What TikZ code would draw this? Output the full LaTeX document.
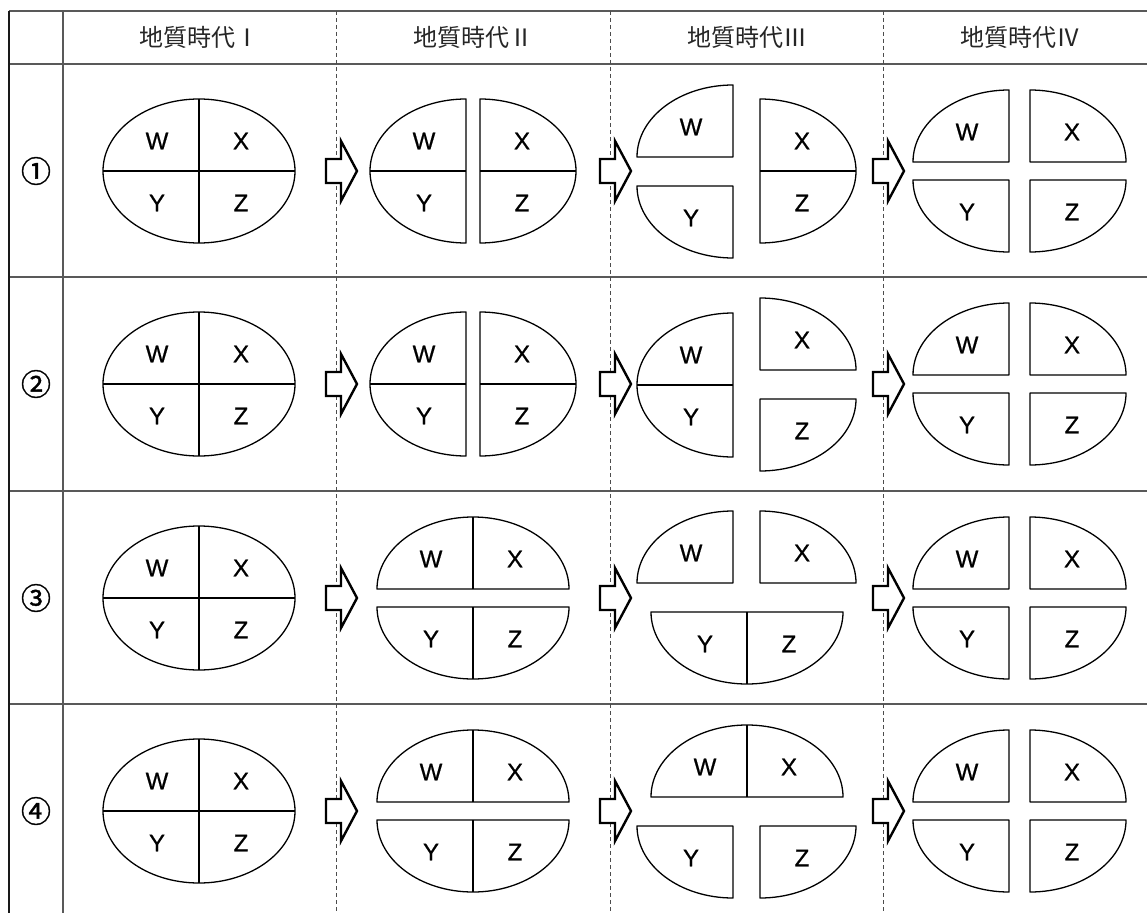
\documentclass[tikz,border=0pt]{standalone}
\usepackage{fontspec}
\setmainfont{Liberation Sans}
\newfontfamily\cjk{Noto Sans CJK JP}
\newfontfamily\numfont[FakeBold=1.2]{Noto Sans CJK JP}
\newfontfamily\lblfont[FakeBold=0.7]{Liberation Sans}
\usetikzlibrary{calc}
\tikzset{
  piece/.style={draw=black, line width=1.3pt, fill=white, line join=round},
  divline/.style={draw=black, line width=1.8pt},
  lbl/.style={inner sep=0pt, font=\lblfont\fontsize{24}{27}\selectfont, text=black},
  hdr/.style={inner sep=0pt, font=\cjk\fontsize{24}{28}\selectfont, text=black!85},
  num/.style={inner sep=0pt, font=\numfont\fontsize{30}{34}\selectfont, text=black},
  rulegray/.style={draw=black!65, line width=1.1pt},
  ruleblack/.style={draw=black!90, line width=1.3pt},
  sepline/.style={draw=black!70, line width=0.9pt, dash pattern=on 4pt off 3pt},
  blk/.style={draw=black, line width=2.4pt, fill=white, line join=miter},
}
% full ellipse with cross
\newcommand\fullE[3]{%
  \draw[piece] (#1,#2) ellipse[x radius=96,y radius=72];
  \draw[divline] (#1-96,#2) -- (#1+96,#2);
  \draw[divline] (#1,#2-72) -- (#1,#2+72);
  \node[lbl] (#3W) at (#1-42,#2-30) {W};
  \node[lbl] (#3X) at (#1+42,#2-30) {X};
  \node[lbl] (#3Y) at (#1-42,#2+32) {Y};
  \node[lbl] (#3Z) at (#1+42,#2+32) {Z};}
% quarters
\newcommand\qTL[3]{%
  \draw[piece] (#1,#2) -- (#1-96,#2) arc[start angle=180,end angle=270,x radius=96,y radius=72] -- cycle;
  \node[lbl] (#3) at (#1-42,#2-30) {W};}
\newcommand\qTR[3]{%
  \draw[piece] (#1,#2) -- (#1,#2-72) arc[start angle=270,end angle=360,x radius=96,y radius=72] -- cycle;
  \node[lbl] (#3) at (#1+42,#2-30) {X};}
\newcommand\qBL[3]{%
  \draw[piece] (#1,#2) -- (#1-96,#2) arc[start angle=180,end angle=90,x radius=96,y radius=72] -- cycle;
  \node[lbl] (#3) at (#1-42,#2+32) {Y};}
\newcommand\qBR[3]{%
  \draw[piece] (#1,#2) -- (#1+96,#2) arc[start angle=0,end angle=90,x radius=96,y radius=72] -- cycle;
  \node[lbl] (#3) at (#1+42,#2+32) {Z};}
% halves
\newcommand\hL[3]{%
  \draw[piece] (#1,#2-72) arc[start angle=270,end angle=90,x radius=96,y radius=72] -- cycle;
  \draw[divline] (#1-96,#2) -- (#1,#2);
  \node[lbl] (#3W) at (#1-42,#2-30) {W};
  \node[lbl] (#3Y) at (#1-42,#2+32) {Y};}
\newcommand\hR[3]{%
  \draw[piece] (#1,#2-72) arc[start angle=-90,end angle=90,x radius=96,y radius=72] -- cycle;
  \draw[divline] (#1,#2) -- (#1+96,#2);
  \node[lbl] (#3X) at (#1+42,#2-30) {X};
  \node[lbl] (#3Z) at (#1+42,#2+32) {Z};}
\newcommand\hT[3]{%
  \draw[piece] (#1-96,#2) arc[start angle=180,end angle=360,x radius=96,y radius=72] -- cycle;
  \draw[divline] (#1,#2) -- (#1,#2-72);
  \node[lbl] (#3W) at (#1-42,#2-30) {W};
  \node[lbl] (#3X) at (#1+42,#2-30) {X};}
\newcommand\hB[3]{%
  \draw[piece] (#1-96,#2) arc[start angle=180,end angle=0,x radius=96,y radius=72] -- cycle;
  \draw[divline] (#1,#2) -- (#1,#2+72);
  \node[lbl] (#3Y) at (#1-42,#2+32) {Y};
  \node[lbl] (#3Z) at (#1+42,#2+32) {Z};}
% block arrow
\newcommand\blkarrow[3]{%
  \coordinate (#3) at (#1,#2);
  \draw[blk] ($(#3)+(-10,-12)$) -- ($(#3)+(5,-12)$) -- ($(#3)+(5,-30)$) -- ($(#3)+(21,0)$)
     -- ($(#3)+(5,30)$) -- ($(#3)+(5,12)$) -- ($(#3)+(-10,12)$) -- cycle;}
\begin{document}
\begin{tikzpicture}[x=1pt,y=-1pt]
\useasboundingbox (0,0) rectangle (1147,912);
\fill[white] (0,0) rectangle (1147,912);
% table
\coordinate (tl) at (9,11);
\coordinate (bl) at (9,915);
\draw[rulegray] (9,11) -- (1150,11);
\draw[rulegray] (9,64) -- (1150,64);
\draw[rulegray] (9,277) -- (1150,277);
\draw[rulegray] (9,491) -- (1150,491);
\draw[rulegray] (9,704) -- (1150,704);
\draw[ruleblack] (tl) -- (bl);
\draw[rulegray] (63,11) -- (63,915);
\draw[sepline] (336,11) -- (336,915);
\draw[sepline] (610,11) -- (610,915);
\draw[sepline] (883,11) -- (883,915);
% headers
\node[hdr] (h1) at (199.5,37.5) {地質時代Ⅰ};
\node[hdr] (h2) at (473,37.5) {地質時代Ⅱ};
\node[hdr] (h3) at (747,37.5) {地質時代Ⅲ};
\node[hdr] (h4) at (1020,37.5) {地質時代Ⅳ};
% row numbers
\node[num] (n1) at (36,171) {①};
\node[num] (n2) at (36,384) {②};
\node[num] (n3) at (36,598) {③};
\node[num] (n4) at (36,811) {④};
% arrows
\foreach \r/\yy in {1/171,2/384,3/598,4/811}{
  \foreach \c/\xx in {1/336,2/610,3/883}{
    \blkarrow{\xx}{\yy}{ar\r\c}
  }
}
% row 1
\fullE{199}{171}{a1}
\hL{466}{171}{b1}
\hR{480}{171}{b1}
\qTL{733}{157}{c1W}
\qBL{733}{186}{c1Y}
\hR{760}{171}{c1}
\qTL{1009}{162}{d1W}
\qTR{1030}{162}{d1X}
\qBL{1009}{180}{d1Y}
\qBR{1030}{180}{d1Z}
% row 2
\fullE{199}{384}{a2}
\hL{466}{384}{b2}
\hR{480}{384}{b2}
\hL{733}{385}{c2}
\qTR{760}{370}{c2X}
\qBR{760}{399}{c2Z}
\qTL{1009}{375}{d2W}
\qTR{1030}{375}{d2X}
\qBL{1009}{393}{d2Y}
\qBR{1030}{393}{d2Z}
% row 3
\fullE{199}{598}{a3}
\hT{473}{589}{b3}
\hB{473}{607}{b3}
\qTL{733}{583}{c3W}
\qTR{760}{583}{c3X}
\hB{747}{612}{c3}
\qTL{1009}{589}{d3W}
\qTR{1030}{589}{d3X}
\qBL{1009}{607}{d3Y}
\qBR{1030}{607}{d3Z}
% row 4
\fullE{199}{811}{a4}
\hT{473}{802}{b4}
\hB{473}{820}{b4}
\hT{747}{797}{c4}
\qBL{733}{826}{c4Y}
\qBR{760}{826}{c4Z}
\qTL{1009}{802}{d4W}
\qTR{1030}{802}{d4X}
\qBL{1009}{820}{d4Y}
\qBR{1030}{820}{d4Z}
\end{tikzpicture}
\end{document}
